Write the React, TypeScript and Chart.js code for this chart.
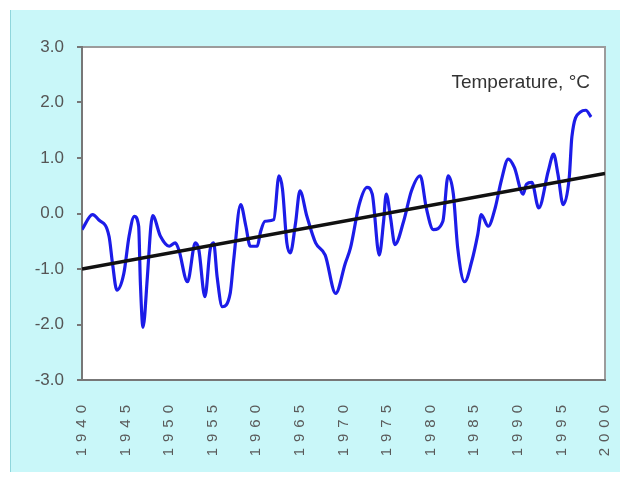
import React, { useEffect, useRef } from "react";
import { Chart, registerables } from "chart.js";

Chart.register(...registerables);

// ---- data ----
const yearTicks = [1940, 1945, 1950, 1955, 1960, 1965, 1970, 1975, 1980, 1985, 1990, 1995, 2000];
const valueTicks = [-3, -2, -1, 0, 1, 2, 3];

const tempYears = [
  1940.0, 1941.2, 1941.9, 1943.1, 1943.5, 1944.0, 1944.8, 1945.4, 1946.0, 1946.5,
  1946.7, 1947.0, 1947.5, 1947.9, 1948.1, 1949.0, 1950.0, 1950.7, 1951.1, 1952.1,
  1953.0, 1953.4, 1954.1, 1954.7, 1955.1, 1955.5, 1956.1, 1957.0, 1957.4, 1958.2,
  1958.8, 1959.3, 1960.1, 1960.5, 1961.0, 1962.0, 1962.6, 1963.0, 1963.5, 1963.9,
  1964.5, 1965.0, 1965.8, 1966.8, 1967.9, 1969.1, 1970.2, 1970.8, 1971.8, 1972.7,
  1973.3, 1974.1, 1974.6, 1974.9, 1975.4, 1975.9, 1976.9, 1977.8, 1978.8, 1979.5,
  1980.3, 1981.4, 1982.0, 1982.6, 1983.1, 1983.9, 1984.7, 1985.4, 1985.8, 1986.6,
  1987.4, 1988.1, 1988.9, 1989.6, 1990.6, 1991.0, 1991.6, 1992.4, 1993.5, 1994.1,
  1994.6, 1995.2, 1995.9, 1996.2, 1997.2, 1997.8, 1998.4,
];
const tempValues = [
  -0.29, -0.02, -0.11, -0.41, -0.9, -1.38, -1.08, -0.41, -0.05, -0.23,
  -1.26, -2.05, -1.14, -0.23, -0.04, -0.41, -0.59, -0.53, -0.65, -1.23,
  -0.53, -0.65, -1.5, -0.65, -0.53, -1.14, -1.68, -1.44, -0.84, 0.16,
  -0.23, -0.59, -0.59, -0.32, -0.14, -0.11, 0.68, 0.44, -0.53, -0.71,
  -0.17, 0.41, -0.05, -0.53, -0.75, -1.44, -0.9, -0.62, 0.16, 0.47,
  0.35, -0.75, -0.14, 0.35, -0.08, -0.56, -0.14, 0.41, 0.68, 0.1,
  -0.29, -0.14, 0.68, 0.35, -0.62, -1.23, -0.87, -0.38, -0.02, -0.23,
  0.1, 0.59, 0.98, 0.83, 0.35, 0.53, 0.56, 0.1, 0.77, 1.07,
  0.71, 0.16, 0.65, 1.38, 1.83, 1.86, 1.74,
];
const trendYears = [1940, 2000];
const trendValues = [-1.0, 0.72];
const seriesLabel = "Temperature, °C";

const FONT = "'Liberation Sans', Arial, sans-serif";
const X_SPACING = "6px";

const framePlugin = {
  id: "frame",
  beforeUpdate(chart: any) {
    chart.ctx.letterSpacing = X_SPACING;
  },
  afterUpdate(chart: any) {
    const ys = chart.scales.y;
    if (ys && !ys.__patched) {
      const orig = ys.drawLabels.bind(ys);
      ys.drawLabels = (area: any) => {
        chart.ctx.letterSpacing = "0px";
        orig(area);
        chart.ctx.letterSpacing = X_SPACING;
      };
      ys.__patched = true;
    }
  },
  beforeDraw(chart: any) {
    const ctx = chart.ctx;
    ctx.letterSpacing = X_SPACING;
    const { left, top, width, height } = chart.chartArea;
    ctx.save();
    ctx.fillStyle = "#ffffff";
    ctx.fillRect(left, top, width, height);
    ctx.strokeStyle = "#9c9c9c";
    ctx.lineWidth = 2;
    ctx.strokeRect(left, top, width, height);
    ctx.restore();
  },
  afterDraw(chart: any) {
    const ctx = chart.ctx;
    const { right, top } = chart.chartArea;
    ctx.save();
    ctx.letterSpacing = "0px";
    ctx.font = `19px ${FONT}`;
    ctx.fillStyle = "#333333";
    ctx.textAlign = "right";
    ctx.textBaseline = "middle";
    ctx.fillText(seriesLabel, right - 15, top + 36);
    ctx.restore();
    ctx.letterSpacing = X_SPACING;
  },
};

export default function App() {
  const ref = useRef<HTMLCanvasElement>(null);

  useEffect(() => {
    if (!ref.current) return;
    Chart.defaults.font.family = FONT;
    const chart = new Chart(ref.current, {
      type: "line",
      data: {
        datasets: [
          {
            label: "trend",
            data: trendYears.map((x, i) => ({ x, y: trendValues[i] })),
            borderColor: "#111111",
            borderWidth: 3.5,
            pointRadius: 0,
            order: 0,
          },
          {
            label: seriesLabel,
            data: tempYears.map((x, i) => ({ x, y: tempValues[i] })),
            borderColor: "#1c1ce8",
            borderWidth: 3.2,
            pointRadius: 0,
            cubicInterpolationMode: "monotone",
            order: 1,
          },
        ],
      },
      options: {
        animation: false,
        responsive: false,
        devicePixelRatio: 1,
        layout: { padding: { left: 0, right: 18, top: 37, bottom: 0 } },
        plugins: { legend: { display: false }, tooltip: { enabled: false } },
        scales: {
          x: {
            type: "linear",
            min: 1940,
            max: 2000,
            afterBuildTicks: (s: any) => {
              s.ticks = yearTicks.map((v) => ({ value: v }));
            },
            afterFit: (s: any) => {
              s.height = 94;
              s.paddingLeft = 0;
              s.paddingRight = 0;
            },
            ticks: {
              autoSkip: false,
              minRotation: 90,
              maxRotation: 90,
              padding: 11,
              color: "#5a5a5a",
              font: { size: 15 },
              callback: (v: any) => String(v),
            },
            grid: { display: false },
            border: { display: true, color: "#777777", width: 2 },
          },
          y: {
            min: -3,
            max: 3,
            afterBuildTicks: (s: any) => {
              s.ticks = valueTicks.map((v) => ({ value: v }));
            },
            afterFit: (s: any) => {
              s.width = 71;
              s.paddingTop = 0;
              s.paddingBottom = 0;
            },
            ticks: {
              padding: 13,
              color: "#555555",
              font: { size: 17 },
              callback: (v: any) => Number(v).toFixed(1),
            },
            grid: {
              drawOnChartArea: false,
              drawTicks: true,
              tickLength: 5,
              color: "#777777",
              lineWidth: 2,
            },
            border: { display: true, color: "#777777", width: 2 },
          },
        },
      },
      plugins: [framePlugin],
    } as any);
    return () => chart.destroy();
  }, []);

  return (
    <div style={{ position: "relative", left: 2, top: 2 }}>
      <div
        style={{
          width: 613,
          height: 464,
          background: "#c9f7f9",
          borderLeft: "1px solid #8fd6dc",
          boxSizing: "border-box",
          position: "relative",
        }}
      >
        <canvas
          ref={ref}
          width={612}
          height={464}
          style={{ display: "block" }}
        />
      </div>
    </div>
  );
}
